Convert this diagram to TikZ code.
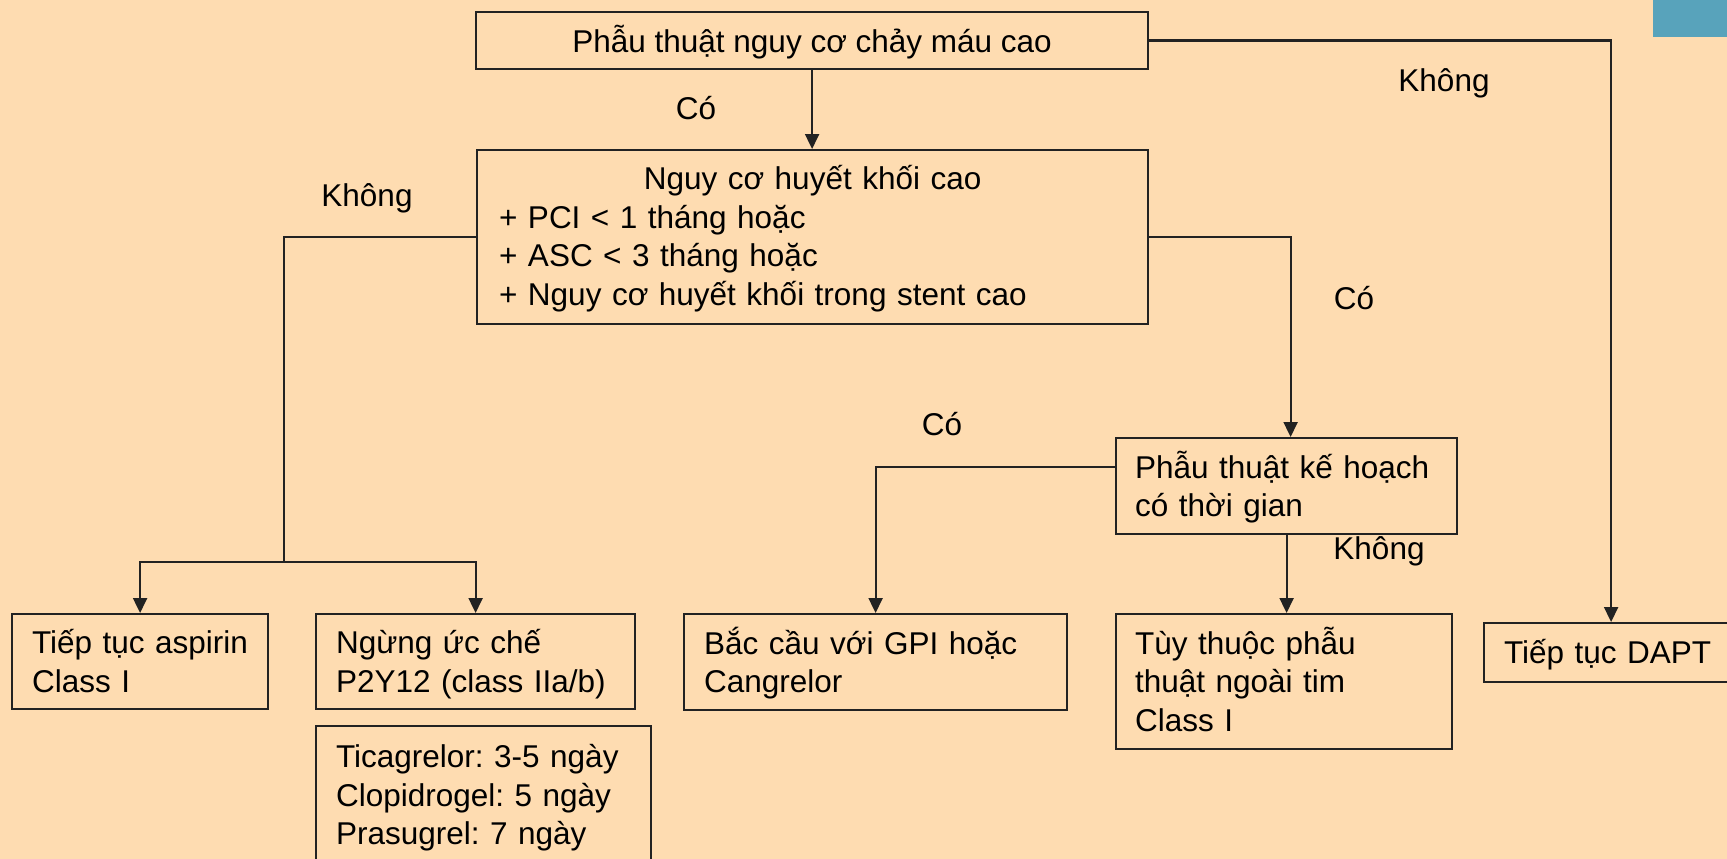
\documentclass[tikz,border=0pt]{standalone}
\usepackage{fontspec}
\setmainfont{Liberation Sans}
\usetikzlibrary{arrows.meta}
\definecolor{peach}{HTML}{FEDCB1}
\definecolor{ink}{HTML}{222222}
\definecolor{cornerteal}{HTML}{58A3BB}
\frenchspacing
% left-aligned stack of lines that never wraps, set a little low in its box
\newcommand{\rows}[1]{\raisebox{0pt}[\dimexpr\height+7pt\relax][\depth]{\begin{tabular}{@{}l@{}}#1\end{tabular}}}
\tikzset{
  box/.style={draw=ink, line width=2.2pt, rectangle, anchor=north west,
              inner ysep=0pt, align=left},
  lbl/.style={inner sep=0pt},
  conn/.style={draw=ink, line width=2.2pt},
  arr/.style={conn, -{Triangle[length=15pt,width=14pt]}},
}
\begin{document}
\begin{tikzpicture}[x=1pt, y=-1pt, font=\fontsize{31.5}{38.5}\selectfont]
  \useasboundingbox (0,0) rectangle (1727,859);
  \fill[peach] (0,0) rectangle (1727,859);
  \clip (0,0) rectangle (1727,859);
  \fill[cornerteal] (1653,0) rectangle (1727,37);

  % decision boxes
  \node[box, align=center, inner xsep=0pt, minimum width=672pt, minimum height=57pt]
    (top) at (475,11) {\raisebox{0pt}[\dimexpr\height+3pt\relax][\depth]{Phẫu thuật nguy cơ chảy máu cao}};
  \node[box, inner xsep=22pt, text width=627pt, minimum width=671pt, minimum height=174pt]
    (risk) at (476,149)
    {\rule{0pt}{27pt}\makebox[\linewidth]{Nguy cơ huyết khối cao}\\
     + PCI < 1 tháng hoặc\\
     + ASC < 3 tháng hoặc\\
     + Nguy cơ huyết khối trong stent cao};
  \node[box, inner xsep=19pt, text width=303pt, minimum width=341pt, minimum height=96pt]
    (plan) at (1115,437) {\rows{Phẫu thuật kế hoạch\\ có thời gian}};

  % outcome boxes
  \node[box, inner xsep=20pt, text width=216pt, minimum width=256pt, minimum height=95pt]
    (aspirin) at (11,613) {\rows{Tiếp tục aspirin\\ Class I}};
  \node[box, inner xsep=20pt, text width=279pt, minimum width=319pt, minimum height=95pt]
    (stop) at (315,613) {\rows{Ngừng ức chế\\ P2Y12 (class IIa/b)}};
  \node[box, inner xsep=20pt, text width=295pt, minimum width=335pt, minimum height=138pt]
    (drugs) at (315,725) {\rows{Ticagrelor: 3-5 ngày\\ Clopidrogel: 5 ngày\\ Prasugrel: 7 ngày}};
  \node[box, inner xsep=20pt, text width=343pt, minimum width=383pt, minimum height=96pt]
    (bridge) at (683,613) {\rows{Bắc cầu với GPI hoặc\\ Cangrelor}};
  \node[box, inner xsep=19pt, text width=298pt, minimum width=336pt, minimum height=135pt]
    (surg) at (1115,613) {\rows{Tùy thuộc phẫu\\ thuật ngoài tim\\ Class I}};
  \node[box, inner xsep=20pt, text width=214pt, minimum width=254pt, minimum height=59pt]
    (dapt) at (1483,622) {\rows{Tiếp tục DAPT}};

  % branch labels
  \node[lbl] (noTop)   at (1444,83)  {Không};
  \node[lbl] (yesTop)  at (696,108)  {Có};
  \node[lbl] (noRisk)  at (367,198)  {Không};
  \node[lbl] (yesRisk) at (1354,298) {Có};
  \node[lbl] (yesPlan) at (942,424)  {Có};
  \node[lbl] (noPlan)  at (1379,551) {Không};

  % connectors
  \draw[arr] (top.south) -- (top.south |- risk.north);
  \draw[arr] (top.east) -| (dapt.north);

  \coordinate (split) at (284,562);
  \draw[conn] (risk.west) -| (split);
  \draw[arr] (split) -| (aspirin.north);
  \draw[arr] (split) -| (stop.north);

  \draw[arr] (risk.east) -| ([xshift=4pt]plan.north);
  \draw[arr] ([yshift=19pt]plan.west) -| (bridge.north);
  \draw[arr] (plan.south) -- (plan.south |- surg.north);
\end{tikzpicture}
\end{document}
